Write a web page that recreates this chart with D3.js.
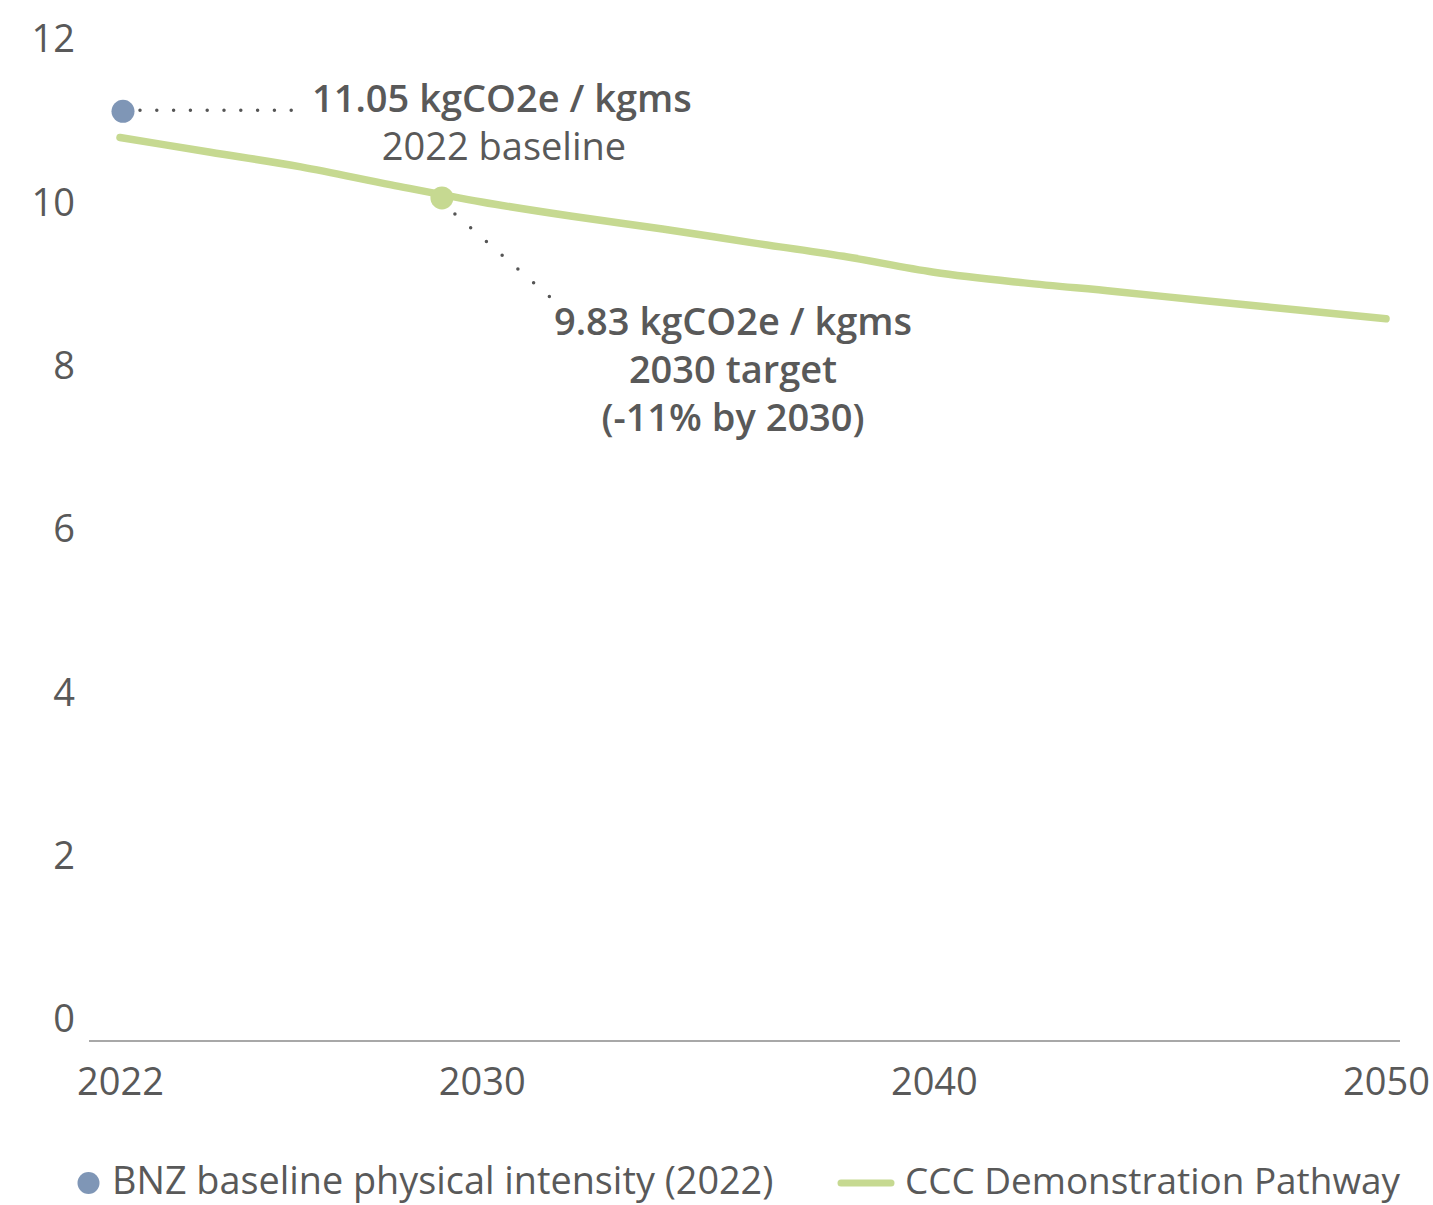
<!DOCTYPE html>
<html>
<head>
<meta charset="utf-8">
<script src="https://cdnjs.cloudflare.com/ajax/libs/d3/7.8.5/d3.min.js"></script>
<style>
  html, body { margin: 0; padding: 0; background: #fff; }
  svg { display: block; }
  text { font-family: "Open Sans", "Noto Sans", sans-serif; fill: #595959; }
</style>
</head>
<body>
<svg id="chart" width="1433" height="1205"></svg>
<script>
// ---- data ----
const years = [2022, 2024, 2026, 2028, 2030, 2032, 2034, 2036, 2038, 2040, 2042, 2044, 2046, 2048, 2050];
const pathwayValues = [10.80, 10.62, 10.44, 10.22, 10.01, 9.835, 9.68, 9.51, 9.345, 9.15, 9.02, 8.915, 8.80, 8.69, 8.58];
const baselinePoint = { year: 2022, value: 11.12 };
const targetPoint = { year: 2029.12, value: 10.06 };
const xTickValues = [2022, 2030, 2040, 2050];
const yTickValues = [0, 2, 4, 6, 8, 10, 12];
const baselineLabel = ["11.05 kgCO2e / kgms", "2022 baseline"];
const targetLabel = ["9.83 kgCO2e / kgms", "2030 target", "(-11% by 2030)"];
const legendLabels = ["BNZ baseline physical intensity (2022)", "CCC Demonstration Pathway"];

const BLUE = "#7f96b6";
const GREEN = "#c6d991";
const TEXT = "#595959";

const svg = d3.select("#chart");

const x = d3.scaleLinear().domain([2022, 2050]).range([120, 1386]);
const y = d3.scaleLinear().domain([0, 12]).range([1019.5, 39.5]);
const axisY = 1041;

// baseline axis line
svg.append("line")
  .attr("x1", 89).attr("x2", 1400)
  .attr("y1", axisY).attr("y2", axisY)
  .attr("stroke", "#a8a8a8").attr("stroke-width", 2);

// y axis labels
const yAxis = d3.axisLeft(y).tickValues(yTickValues).tickSize(0).tickPadding(0);
const gy = svg.append("g").attr("transform", "translate(75,0)").call(yAxis);
gy.select(".domain").remove();
gy.selectAll("text").style("font-size", "38px").attr("fill", TEXT)
  .style("font-family", "'Open Sans', sans-serif");

// x axis labels
const xAxis = d3.axisBottom(x).tickValues(xTickValues).tickFormat(d3.format("d")).tickSize(0).tickPadding(0);
const gx = svg.append("g").attr("transform", `translate(0,${axisY})`).call(xAxis);
gx.select(".domain").remove();
gx.selectAll("text").attr("dy", null).attr("y", 54).style("font-size", "38px").attr("fill", TEXT)
  .style("font-family", "'Open Sans', sans-serif");

// pathway line
const series = years.map((yr, i) => ({ year: yr, value: pathwayValues[i] }));
const line = d3.line().x(d => x(d.year)).y(d => y(d.value)).curve(d3.curveMonotoneX);
svg.append("path").datum(series)
  .attr("d", line)
  .attr("fill", "none").attr("stroke", GREEN).attr("stroke-width", 7.5)
  .attr("stroke-linecap", "round");

// dotted leaders
const bx = x(baselinePoint.year), by = y(baselinePoint.value);
svg.append("line")
  .attr("x1", bx + 20).attr("y1", by - 1).attr("x2", 302).attr("y2", by - 1)
  .attr("stroke", "#555").attr("stroke-width", 3.5)
  .attr("stroke-linecap", "round").attr("stroke-dasharray", "0 16.8");

const tx = x(targetPoint.year), ty = y(targetPoint.value);
svg.append("line")
  .attr("x1", tx + 13).attr("y1", ty + 16).attr("x2", 550).attr("y2", 297)
  .attr("stroke", "#555").attr("stroke-width", 3.5)
  .attr("stroke-linecap", "round").attr("stroke-dasharray", "0 20.9");

// points
svg.append("circle").attr("cx", bx + 3).attr("cy", by).attr("r", 11.5).attr("fill", BLUE);
svg.append("circle").attr("cx", tx).attr("cy", ty).attr("r", 11.5).attr("fill", GREEN);

// annotation texts
svg.append("text").attr("x", 312).attr("y", 112)
  .style("font-size", "38px").style("font-weight", 600).text(baselineLabel[0]);
svg.append("text").attr("x", 504).attr("y", 160).attr("text-anchor", "middle")
  .style("font-size", "38px").style("font-weight", 400).text(baselineLabel[1]);

targetLabel.forEach((t, i) => {
  svg.append("text").attr("x", 733).attr("y", 335 + i * 48).attr("text-anchor", "middle")
    .style("font-size", "38px").style("font-weight", 600).text(t);
});

// legend
svg.append("circle").attr("cx", 88.5).attr("cy", 1183).attr("r", 11).attr("fill", BLUE);
svg.append("text").attr("x", 112).attr("y", 1194).style("font-size", "37.8px").text(legendLabels[0]);
svg.append("line").attr("x1", 841).attr("x2", 891).attr("y1", 1183).attr("y2", 1183)
  .attr("stroke", GREEN).attr("stroke-width", 7).attr("stroke-linecap", "round");
svg.append("text").attr("x", 905).attr("y", 1194).style("font-size", "36.9px").text(legendLabels[1]);
</script>
</body>
</html>
